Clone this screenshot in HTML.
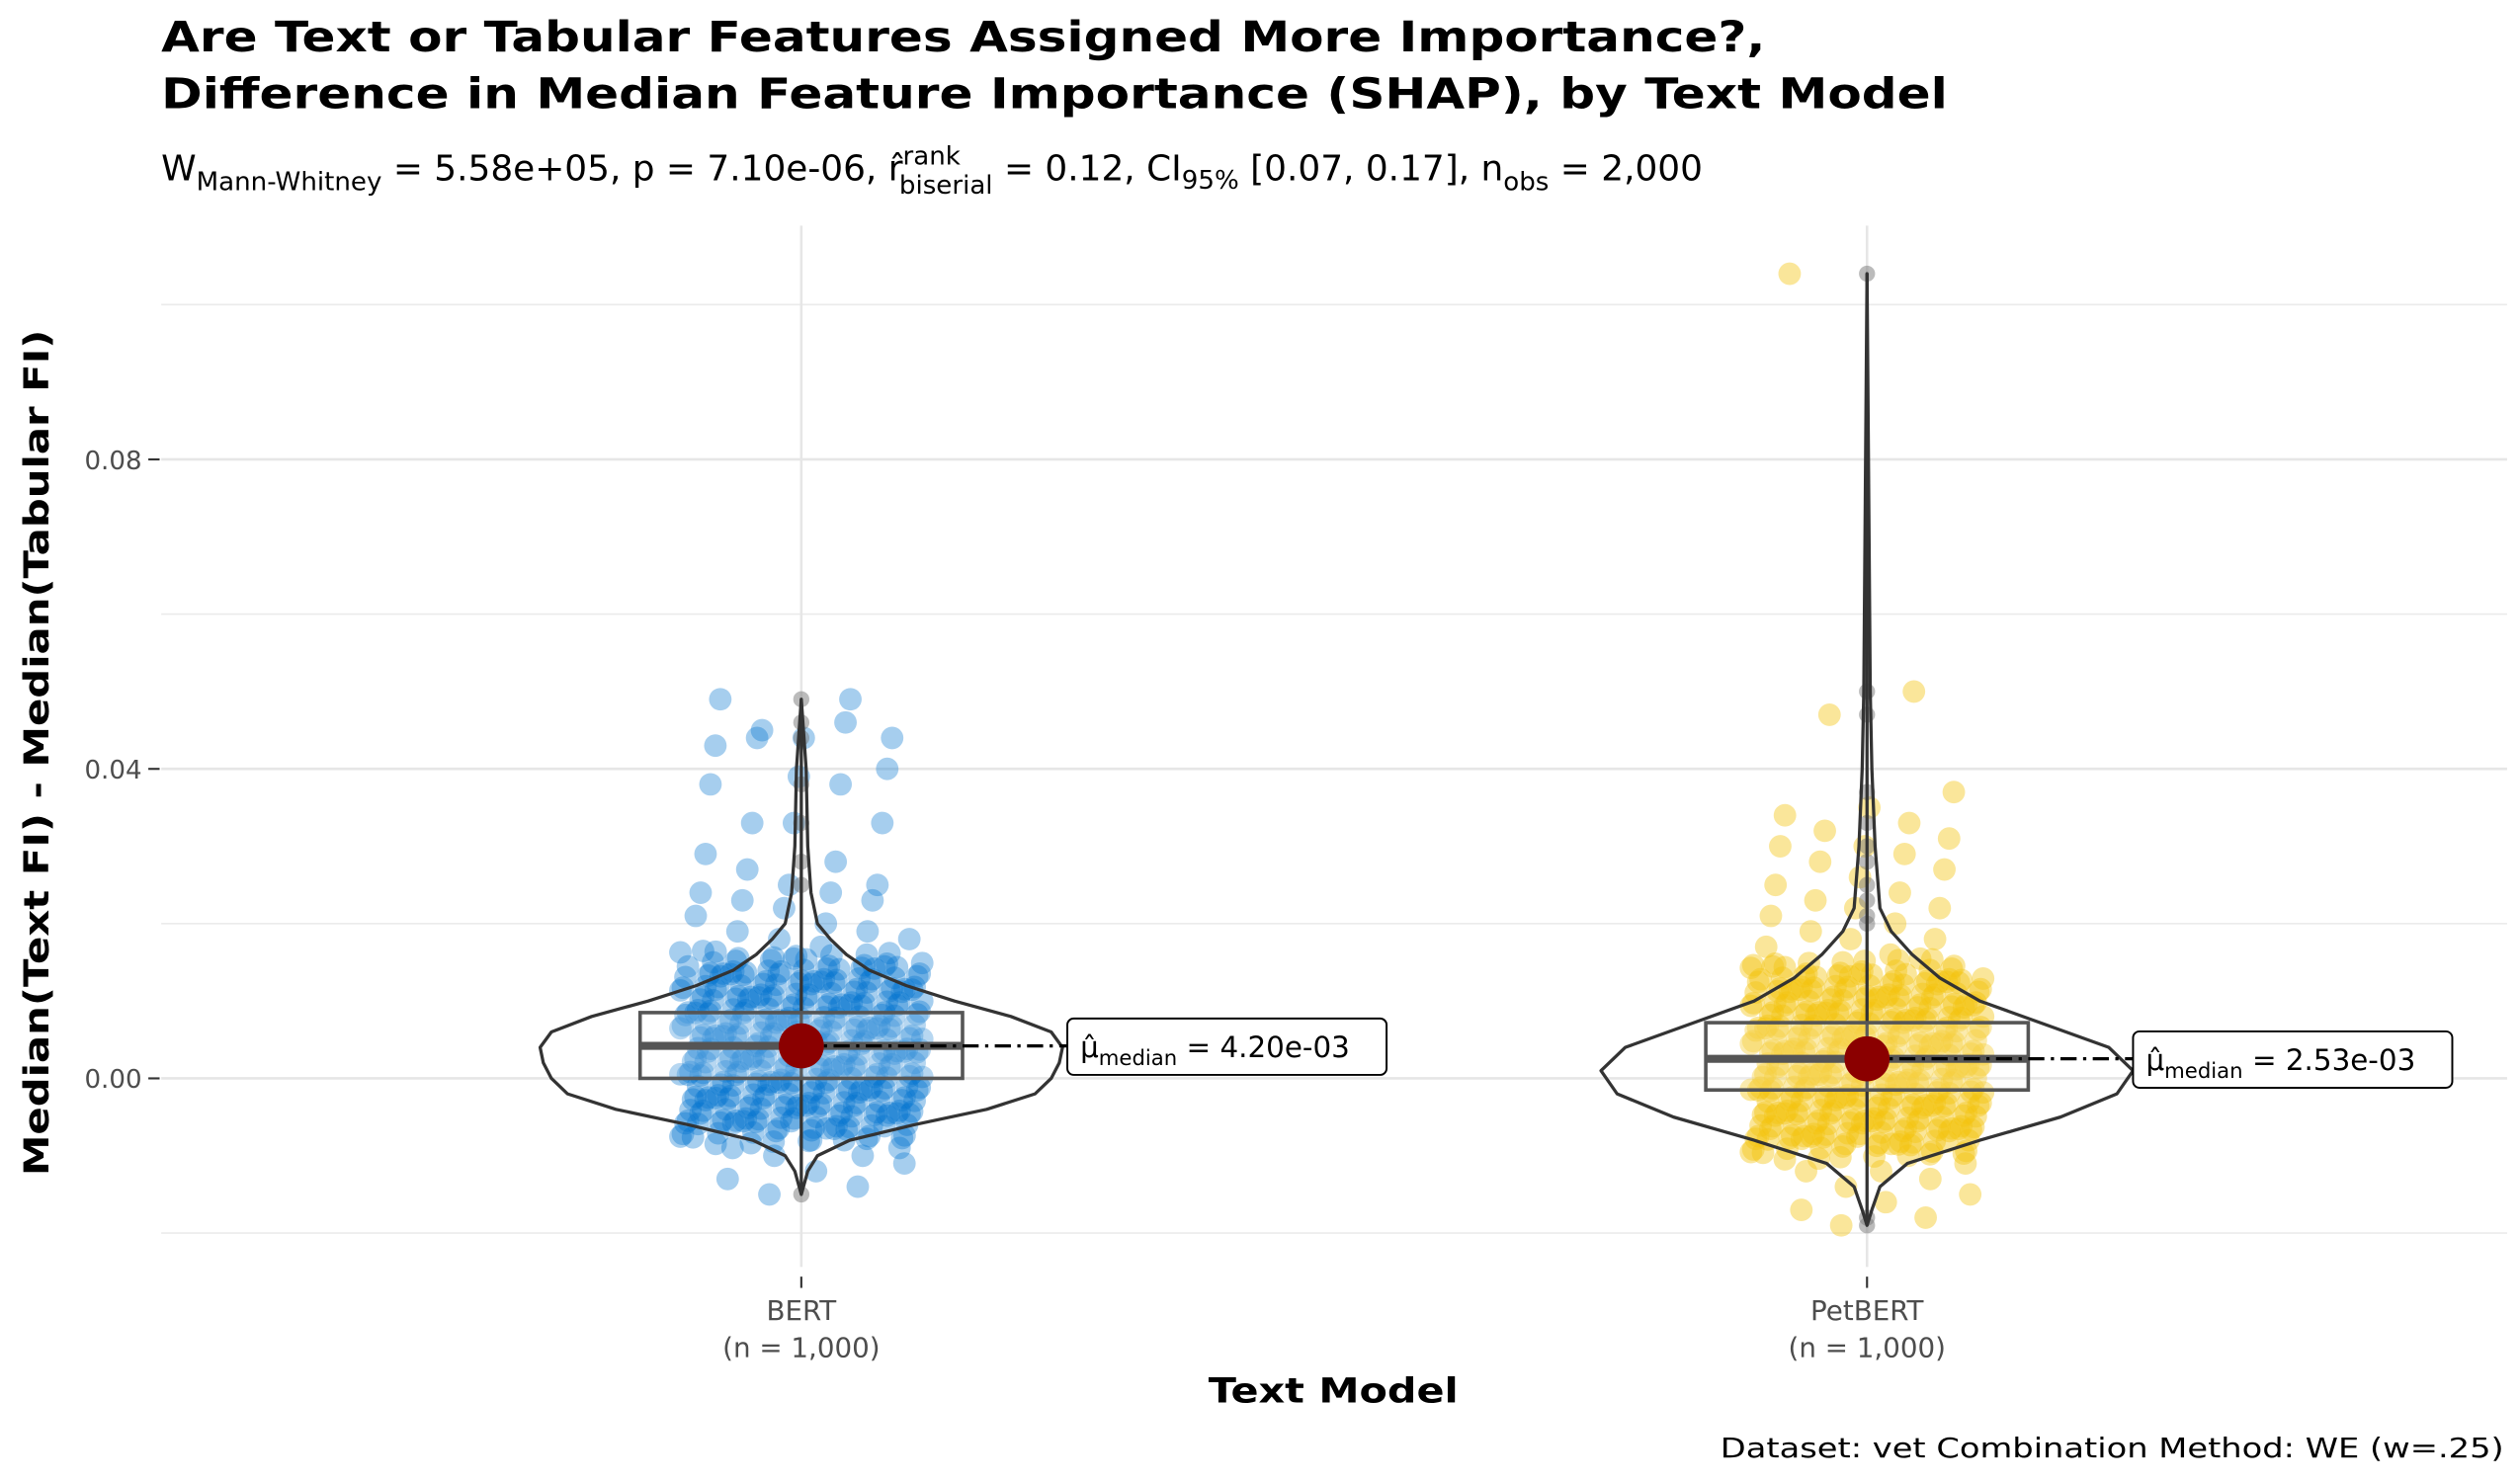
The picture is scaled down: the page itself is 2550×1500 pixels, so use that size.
<!DOCTYPE html>
<html><head><meta charset="utf-8"><style>html,body{margin:0;padding:0;background:#fff}svg{display:block;font-family:"DejaVu Sans","Liberation Sans",sans-serif}</style></head>
<body>
<svg id="chart" width="2550" height="1500" viewBox="0 0 1563 919.4" xmlns="http://www.w3.org/2000/svg">
<rect width="1563" height="920" fill="#fff"/>
<text x="100" y="32" font-size="26" font-weight="bold" textLength="995" lengthAdjust="spacingAndGlyphs">Are Text or Tabular Features Assigned More Importance?,</text>
<text x="100" y="67" font-size="26" font-weight="bold" textLength="1108" lengthAdjust="spacingAndGlyphs">Difference in Median Feature Importance (SHAP), by Text Model</text>
<text x="100" y="112" font-size="22">W<tspan font-size="16" dy="6">Mann-Whitney</tspan><tspan dy="-6"> = 5.58e+05, p = 7.10e-06, r̂</tspan><tspan font-size="16" dy="-10">rank</tspan><tspan font-size="16" dx="-38" dy="18">biserial</tspan><tspan dy="-8"> = 0.12, CI</tspan><tspan font-size="16" dy="5">95%</tspan><tspan dy="-5"> [0.07, 0.17], n</tspan><tspan font-size="16" dy="6">obs</tspan><tspan dy="-6"> = 2,000</tspan></text>
<g id="grid"></g>
<g id="marks"></g>
<text transform="translate(30,467) rotate(-90)" text-anchor="middle" font-size="21" font-weight="bold" textLength="525" lengthAdjust="spacingAndGlyphs">Median(Text FI) - Median(Tabular FI)</text>
<text x="827" y="870" text-anchor="middle" font-size="21" font-weight="bold" textLength="155" lengthAdjust="spacingAndGlyphs">Text Model</text>
<text x="1553" y="904" text-anchor="end" font-size="17" textLength="486" lengthAdjust="spacingAndGlyphs">Dataset: vet Combination Method:  WE (w=.25)</text>
</svg>
<script>
const categories = ["BERT","PetBERT"];
const nLabels = ["(n = 1,000)","(n = 1,000)"];
const yTicks = [0.00,0.04,0.08];
const yTickLabels = ["0.00","0.04","0.08"];
const yMinor = [-0.02,0.02,0.06,0.10];
const medians = [0.0042,0.00253];
const medianLabels = ["4.20e-03","2.53e-03"];
const q1 = [0.0,-0.0015];
const q3 = [0.0085,0.0072];
const whiskLo = [-0.015,-0.019];
const whiskHi = [0.049,0.104];
const bertCore = [-0.008,-0.007,-0.006,-0.005,-0.004,-0.003,-0.002,-0.001,0,0.001,0.002,0.003,0.004,0.005,0.006,0.007,0.008,0.009,0.010,0.011,0.012,0.013,0.014,0.015,0.016];
const petCore = [-0.010,-0.009,-0.008,-0.007,-0.006,-0.005,-0.004,-0.003,-0.002,-0.001,0,0.001,0.002,0.003,0.004,0.005,0.006,0.007,0.008,0.009,0.010,0.011,0.012,0.013,0.014,0.015];
const bertTail = [0.049,0.049,0.045,0.044,0.044,0.043,0.046,0.044,0.040,0.039,0.038,0.038,0.033,0.033,0.033,0.029,0.028,0.027,0.025,0.025,0.024,0.024,0.023,0.023,0.022,0.021,0.020,0.019,0.019,0.018,0.018,0.017,-0.009,-0.010,-0.010,-0.011,-0.012,-0.013,-0.014,-0.015,-0.009,-0.008];
const petTail = [0.104,0.050,0.047,0.037,0.035,0.034,0.033,0.032,0.031,0.030,0.030,0.029,0.028,0.027,0.026,0.025,0.024,0.023,0.022,0.022,0.021,0.020,0.019,0.018,0.018,0.017,0.016,-0.012,-0.013,-0.014,-0.015,-0.016,-0.017,-0.018,-0.019,-0.011,-0.012];
const bertOut = [0.049,0.046,0.044,0.038,0.033,0.028,0.025,-0.015];
const petOut = [0.104,0.050,0.047,0.037,0.033,0.030,0.028,0.025,0.023,0.021,0.020,-0.019,-0.018];
const bertViolY = [-0.015,-0.012,-0.010,-0.008,-0.006,-0.004,-0.002,0,0.002,0.004,0.006,0.008,0.010,0.012,0.014,0.016,0.018,0.020,0.024,0.030,0.040,0.049];
const bertViolW = [0,4,10,30,70,115,145,155,160,162,155,130,95,65,42,28,18,10,6,4,3,0];
const petViolY = [-0.019,-0.017,-0.014,-0.011,-0.008,-0.005,-0.002,0.001,0.004,0.007,0.010,0.013,0.016,0.019,0.022,0.030,0.040,0.050,0.104];
const petViolW = [0,3,8,25,70,120,155,165,150,110,70,45,28,15,8,5,3,2,0];

const NS="http://www.w3.org/2000/svg";
const yS = v => 669 - v*4800;
const xS = i => [497,1158][i];
const grid=document.getElementById('grid'), marks=document.getElementById('marks');
function mk(tag,attrs,parent){const e=document.createElementNS(NS,tag);for(const k in attrs)e.setAttribute(k,attrs[k]);parent.appendChild(e);return e;}

yMinor.forEach(v=>{const l=mk('line',{x1:100,x2:1555,y1:yS(v),y2:yS(v),stroke:'#ebebeb','stroke-width':1},grid);

});
yTicks.forEach((v,i)=>{const l=mk('line',{x1:100,x2:1555,y1:yS(v),y2:yS(v),stroke:'#e6e6e6','stroke-width':1.6},grid);


const t=mk('line',{x1:92,x2:99,y1:yS(v),y2:yS(v),stroke:'#333','stroke-width':1.3},grid);


const tx=mk('text',{x:88,y:yS(v)+6,'text-anchor':'end','font-size':16,fill:'#4d4d4d'},grid);tx.textContent=yTickLabels[i];

});
categories.forEach((c,i)=>{const g=mk('line',{x1:xS(i),x2:xS(i),y1:140,y2:786,stroke:'#e6e6e6','stroke-width':1.6},grid);


const t=mk('line',{x1:xS(i),x2:xS(i),y1:792,y2:799,stroke:'#333','stroke-width':1.3},grid);


const a=mk('text',{x:xS(i),y:819,'text-anchor':'middle','font-size':17,fill:'#4d4d4d'},grid);a.textContent=c;


const b=mk('text',{x:xS(i),y:842,'text-anchor':'middle','font-size':17,fill:'#4d4d4d'},grid);b.textContent=nLabels[i];

});

const colors=['rgba(0,114,206,0.35)','rgba(242,196,15,0.42)'];
const widths=[75,72];
[[bertCore,bertTail],[petCore,petTail]].forEach(([core,tail],g)=>{
  core.forEach((v,i)=>{const edge=(i<2||i>core.length-3)?9:15;for(let r=0;r<edge;r++){const off=(((i*61+r*37)%97)/96-0.5)*2*widths[g];
    const p=mk('circle',{cx:xS(g)+off,cy:yS(v)+((r*7)%11-5)*0.45,r:7,fill:colors[g]},marks);
    
    }});
  tail.forEach((v,i)=>{const off=(((i*53+11)%89)/88-0.5)*2*(widths[g]-8);
    const p=mk('circle',{cx:xS(g)+off,cy:yS(v),r:7,fill:colors[g]},marks);
    
    });
});
[bertOut,petOut].forEach((arr,g)=>arr.forEach(v=>{const p=mk('circle',{cx:xS(g),cy:yS(v),r:5,fill:'rgba(120,120,120,0.5)'},marks);

}));
[[bertViolY,bertViolW],[petViolY,petViolW]].forEach(([ys,ws],g)=>{
  let d='';ys.forEach((v,i)=>{d+=(i?'L':'M')+(xS(g)+ws[i])+','+yS(v);});
  for(let i=ys.length-1;i>=0;i--)d+='L'+(xS(g)-ws[i])+','+yS(ys[i]);
  const p=mk('path',{d:d+'Z',fill:'none',stroke:'#333','stroke-width':2,'stroke-linejoin':'round'},marks);
  
  
  const w=mk('line',{x1:xS(g),x2:xS(g),y1:yS(whiskLo[g]),y2:yS(whiskHi[g]),stroke:'#333','stroke-width':2},marks);
  
  
  const b=mk('rect',{x:xS(g)-100,y:yS(q3[g]),width:200,height:yS(q1[g])-yS(q3[g]),fill:'rgba(255,255,255,0.2)',stroke:'#555','stroke-width':2.2},marks);
  
  
  const m=mk('line',{x1:xS(g)-100,x2:xS(g)+100,y1:yS(medians[g]),y2:yS(medians[g]),stroke:'#555','stroke-width':5},marks);
  
  
  const bx=[662,1323][g];
  const dl=mk('line',{x1:xS(g),x2:bx,y1:yS(medians[g]),y2:yS(medians[g]),stroke:'#000','stroke-width':2,'stroke-dasharray':'10,4,2,4'},marks);
  
  
  const c=mk('circle',{cx:xS(g),cy:yS(medians[g]),r:14,fill:'#8b0000'},marks);
  
  
  const ly=yS(medians[g]);
  const lb=mk('rect',{x:bx,y:ly-17,width:198,height:35,rx:4,fill:'#fff',stroke:'#000','stroke-width':1.2},marks);
  
  
  const t=mk('text',{x:bx+8,y:ly+7,'font-size':18},marks);
  t.innerHTML='μ̂<tspan font-size="13" dy="5">median</tspan><tspan dy="-5"> = '+medianLabels[g]+'</tspan>';
  
  
});
</script>
</body></html>
